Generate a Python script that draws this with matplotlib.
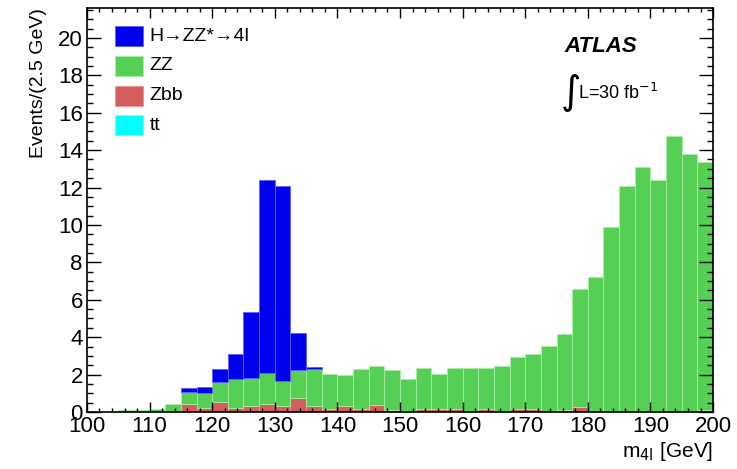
import numpy as np
import matplotlib
matplotlib.use("Agg")
import matplotlib.pyplot as plt
from matplotlib.ticker import MultipleLocator
from matplotlib.patches import Rectangle

plt.rcParams['font.family'] = ['Liberation Sans', 'DejaVu Sans']

# bin lower edges, 2.5 GeV wide
bin_lo = np.arange(100, 200, 2.5)

# events per bin
tt = [0, 0, 0, 0, 0, 0, 0.02, 0.02, 0.02, 0.02, 0.02, 0.02, 0.02, 0.02, 0.02, 0, 0, 0, 0, 0,
      0, 0, 0, 0, 0, 0, 0, 0, 0, 0, 0, 0, 0, 0, 0, 0, 0, 0, 0, 0]
zbb = [0, 0, 0, 0.05, 0.05, 0.05, 0.43, 0.18, 0.53, 0.18, 0.28, 0.43, 0.28, 0.73, 0.28, 0.15, 0.3, 0.15, 0.35, 0.1,
       0.05, 0.15, 0.15, 0.15, 0.05, 0.15, 0.05, 0.15, 0.15, 0.05, 0.1, 0.25, 0.05, 0.05, 0.05, 0.05, 0.05, 0.05, 0.05, 0.1]
zz = [0, 0, 0.1, 0.05, 0.1, 0.38, 0.64, 0.83, 1.04, 1.56, 1.5, 1.65, 1.36, 1.5, 1.98, 1.88, 1.66, 2.13, 2.11, 2.15,
      1.7, 2.19, 1.88, 2.19, 2.29, 2.19, 2.41, 2.81, 2.95, 3.48, 4.07, 6.31, 7.15, 9.86, 12.05, 13.05, 12.35, 14.71, 13.73, 13.29]
higgs = [0, 0, 0, 0, 0, 0, 0.21, 0.32, 0.71, 1.34, 3.56, 10.3, 10.44, 1.95, 0.14, 0, 0, 0, 0, 0,
         0, 0, 0, 0, 0, 0, 0, 0, 0, 0, 0, 0, 0, 0, 0, 0, 0, 0, 0, 0]

fig = plt.figure(figsize=(7.37, 4.69), dpi=100)
ax = fig.add_axes([0.118, 0.1215, 0.8495, 0.8615])

components = [
    (tt, '#00ffff', '#80ffff', 'tt'),
    (zbb, '#d45d5d', '#f09090', 'Zbb'),
    (zz, '#55d055', '#a8eea8', 'ZZ'),
    (higgs, '#0000f0', '#6060ff', 'H\u2192ZZ*\u21924l'),
]

bottom = np.zeros(len(bin_lo))
for vals, col, edge, lab in components:
    vals = np.array(vals)
    nz = vals > 0
    ax.bar(bin_lo[nz], vals[nz], width=2.5, bottom=bottom[nz], align='edge',
           color=col, edgecolor=edge, linewidth=0.6)
    bottom = bottom + vals

ax.set_xlim(100, 200)
ax.set_ylim(0, 21.6)

ax.xaxis.set_major_locator(MultipleLocator(10))
ax.xaxis.set_minor_locator(MultipleLocator(2))
ax.yaxis.set_major_locator(MultipleLocator(2))
ax.yaxis.set_minor_locator(MultipleLocator(0.5))
ax.tick_params(which='both', direction='in', top=True, right=True, labelsize=16, width=1)
ax.tick_params(axis='x', which='major', length=7, pad=3)
ax.tick_params(axis='x', which='minor', length=3)
ax.tick_params(axis='y', which='major', length=10, pad=3)
ax.tick_params(axis='y', which='minor', length=4)
for s in ax.spines.values():
    s.set_linewidth(1.2)

ax.set_xlabel(r'm$_{\mathrm{4l}}$ [GeV]', fontsize=15, loc='right', labelpad=2)
ax.set_ylabel('Events/(2.5 GeV)', fontsize=14, loc='top', labelpad=8)

# legend drawn ROOT-like: boxes and labels
leg_items = [components[3], components[2], components[1], components[0]]
for i, (vals, col, edge, lab) in enumerate(leg_items):
    y0 = 0.955 - i * 0.0735
    ax.add_patch(Rectangle((0.045, y0 - 0.05), 0.045, 0.05, transform=ax.transAxes,
                           facecolor=col, edgecolor=edge, linewidth=0.6))
    ax.text(0.1, y0 - 0.025, lab, transform=ax.transAxes, fontsize=14,
            va='center', ha='left')

ax.text(0.763, 0.905, 'ATLAS', transform=ax.transAxes, fontsize=16,
        fontweight='bold', fontstyle='italic', va='center', ha='left')
ax.text(0.755, 0.79, r'$\int$', transform=ax.transAxes, fontsize=20, va='center', ha='left')
ax.text(0.785, 0.79, r'L=30 fb$^{-1}$', transform=ax.transAxes, fontsize=13, va='center', ha='left')

fig.savefig('out.png', dpi=100)
